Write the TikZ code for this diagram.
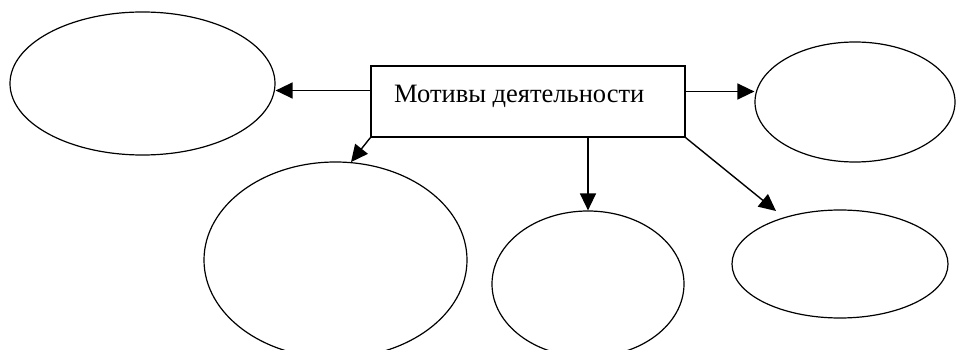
\documentclass[tikz,border=0pt]{standalone}
\usepackage{fontspec}
\setmainfont{Liberation Serif}
\usetikzlibrary{shapes.geometric,arrows.meta}
\begin{document}
\begin{tikzpicture}[x=1pt,y=-1pt,
  oval/.style={draw=black,line width=1.2pt,ellipse,inner sep=0pt},
  arr/.style={draw=black,line width=1.4pt,-{Triangle[length=17pt,width=16pt]}},
  titlebox/.style={draw=black,line width=1.4pt,rectangle,inner sep=0pt,minimum width=314pt,minimum height=71pt}]
\useasboundingbox (0,0) rectangle (962,350);
\node[oval,minimum width=265pt,minimum height=143pt] (e1) at (142.5,83.5) {};
\node[oval,minimum width=200pt,minimum height=120pt] (e2) at (855,102) {};
\node[oval,minimum width=263pt,minimum height=196pt] (e3) at (335.5,260) {};
\node[oval,minimum width=192pt,minimum height=146pt] (e4) at (588,284) {};
\node[oval,minimum width=216pt,minimum height=108pt] (e5) at (840,264) {};
\node[titlebox] (box) at (528,101.5) {};
\node[anchor=west,font=\fontsize{26.5}{30}\selectfont,inner sep=0pt] (lbl) at (394,96) {Мотивы деятельности};
\coordinate (t5) at (776,211);
\draw[arr] ([yshift=11pt]box.west) -- ([yshift=11pt]box.west -| e1.east);
\draw[arr] ([yshift=10pt]box.east) -- ([yshift=10pt]box.east -| e2.west);
\draw[arr] (box.south west) -- (e3.81);
\draw[arr] (e4.north |- box.south) -- (e4.north);
\draw[arr] (box.south east) -- (t5);
\end{tikzpicture}
\end{document}
